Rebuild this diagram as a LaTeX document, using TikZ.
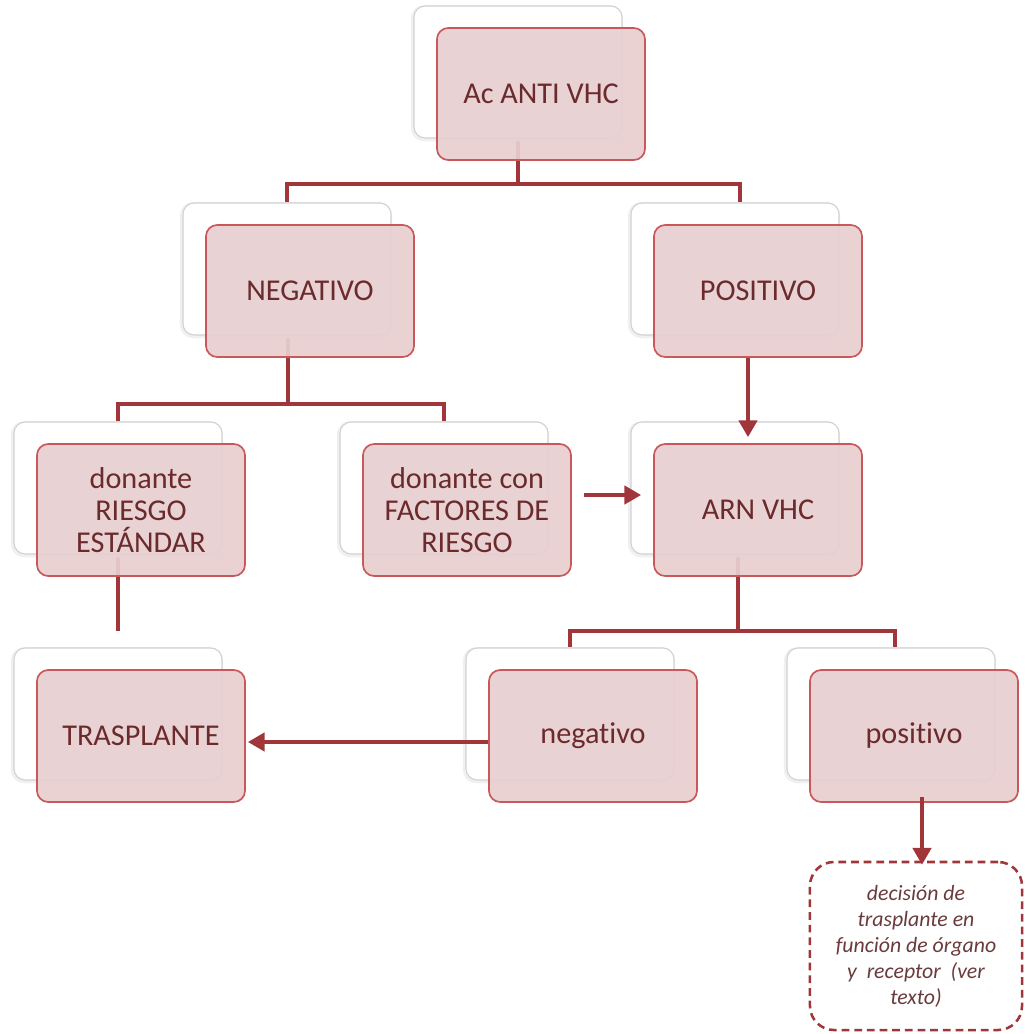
\documentclass[tikz,border=0pt]{standalone}
\usepackage{fontspec}
\setmainfont{Carlito}[Ligatures=NoCommon]
\usetikzlibrary{positioning, calc, arrows.meta, backgrounds}
\definecolor{cardfill}{HTML}{E8CFD0}
\definecolor{cardline}{HTML}{C9585B}
\definecolor{cardtext}{HTML}{6B2A2C}
\definecolor{linkred}{HTML}{A0353A}
\definecolor{notetext}{HTML}{6B3A3C}
\tikzset{
  card/.style={rectangle, rounded corners=8pt, minimum width=5.2cm, minimum height=3.3cm,
    draw=cardline, line width=1.2pt, fill=cardfill, fill opacity=0.93, text opacity=1,
    text=cardtext, align=center, font=\fontsize{21.5}{23}\selectfont,
    preaction={draw=gray!12, line width=3pt, fill=white, fill opacity=1,
      transform canvas={xshift=-0.6cm, yshift=0.52cm}},
    preaction={draw=gray!35, line width=0.8pt, fill=white, fill opacity=1,
      transform canvas={xshift=-0.575cm, yshift=0.55cm}}},
  note/.style={rectangle, rounded corners=0.6cm, minimum width=5.3cm, minimum height=4.2cm,
    draw=linkred, line width=1.8pt, dash pattern=on 5.5pt off 3.5pt, text=notetext,
    align=center, font=\fontsize{15.5}{18.5}\selectfont\itshape},
  link/.style={draw=linkred, line width=2.8pt},
  flow/.style={link, -{Triangle[length=12pt, width=13pt]}}
}
\begin{document}
\begin{tikzpicture}[x=0.025cm, y=-0.025cm]
    \useasboundingbox (0,0) rectangle (1025,1034);

    % --- BOXES ---
    \node[card] (anti) at (541,94)  {Ac ANTI VHC};
    \node[card] (neg)  at (310,291) {NEGATIVO};
    \node[card] (pos)  at (758,291) {POSITIVO};
    \node[card] (std)  at (141,510) {donante\\RIESGO\\ESTÁNDAR};
    \node[card] (fac)  at (467,510) {donante con\\FACTORES DE\\RIESGO};
    \node[card] (arn)  at (758,510) {ARN VHC};
    \node[card] (tras) at (141,736) {TRASPLANTE};
    \node[card] (nvo)  at (593,736) {negativo};
    \node[card] (pvo)  at (914,736) {positivo};

    % Decision note (dashed)
    \node[note] (dec) at (916,946) {decisión de\\trasplante en\\función de órgano\\y\ \ receptor\ \ (ver\\texto)};

    % --- TREE LINKS (behind the boxes) ---
    \begin{scope}[on background layer]
        \coordinate (j1) at ($(anti.south)+(-23,23)$);
        \draw[link] ($(anti.south)+(-23,-22)$) -- (j1);
        \draw[link] ($(neg.north)+(-23,-22)$) |- (j1) -| ($(pos.north)+(-18,-22)$);

        \coordinate (j2) at ($(neg.south)+(-22,46)$);
        \draw[link] ($(neg.south)+(-22,-22)$) -- (j2);
        \draw[link] ($(std.north)+(-23,-22)$) |- (j2) -| ($(fac.north)+(-23,-22)$);

        \coordinate (j3) at ($(arn.south)+(-20,54)$);
        \draw[link] ($(arn.south)+(-20,-22)$) -- (j3);
        \draw[link] ($(nvo.north)+(-23,-22)$) |- (j3) -| ($(pvo.north)+(-19,-22)$);

        \draw[link] ($(std.south)+(-23,-22)$) -- ($(tras.north)+(-23,-38)$);
    \end{scope}

    % --- ARROWS ---
    \draw[flow] ($(pos.south)+(-10,0)$) -- ($(arn.north)+(-10,-6)$);
    \draw[flow] ($(fac.east)+(12,-15)$) -- ($(arn.west)+(-12,-15)$);
    \draw[flow] ($(nvo.west)+(0,6)$) -- ($(tras.east)+(2,6)$);
    \draw[flow] ($(pvo.south)+(8,-6)$) -- ($(dec.north)+(6,4)$);

\end{tikzpicture}
\end{document}
